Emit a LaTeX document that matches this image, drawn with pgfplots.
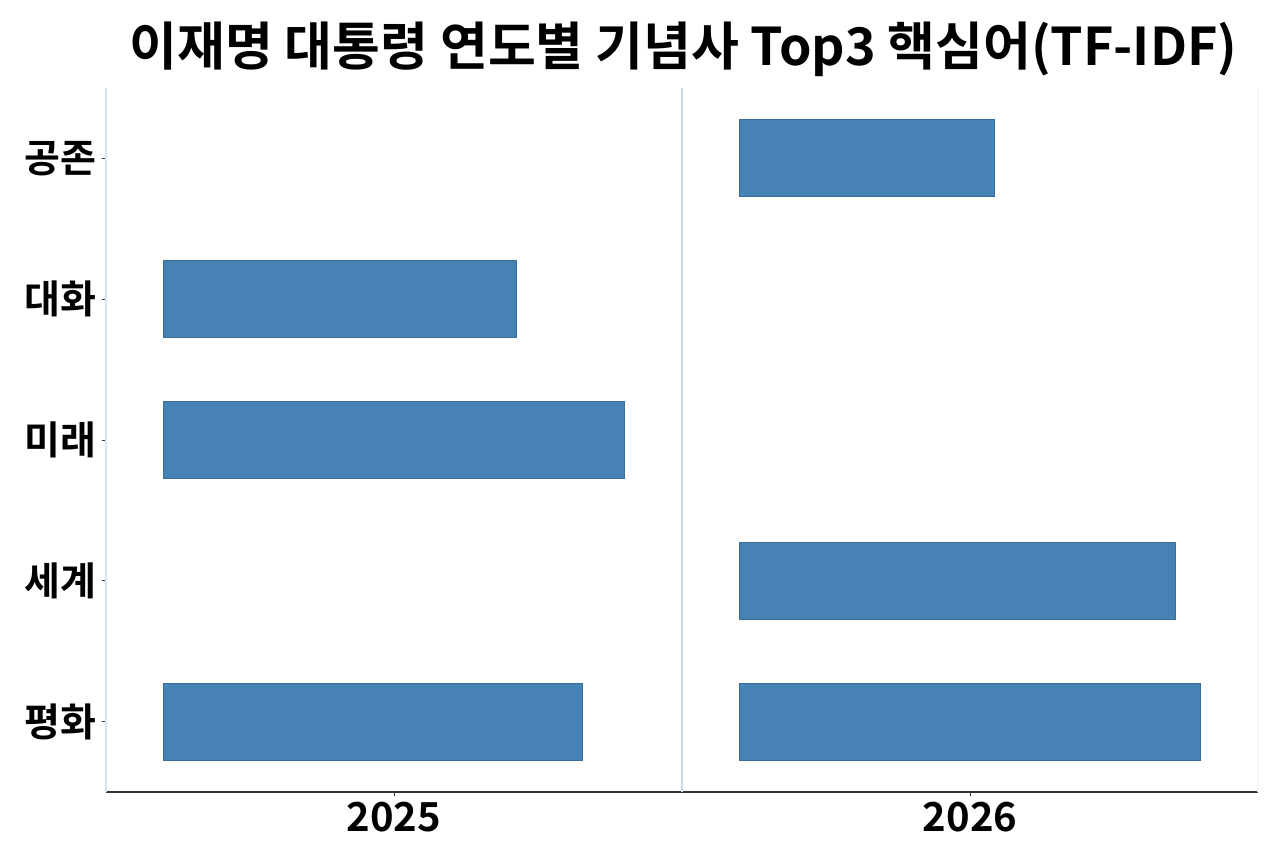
\documentclass[border=0pt]{standalone}
\usepackage{pgfplots}
\pgfplotsset{compat=1.18}
\usepackage{fontspec}
\setmainfont{Noto Sans CJK KR}[BoldFont={Noto Sans CJK KR Bold}]
\definecolor{barblue}{HTML}{4682B4}
\definecolor{baredge}{HTML}{3A6E9A}
\definecolor{spineblue}{HTML}{D3E2EF}
\definecolor{divblue}{HTML}{C6DBEF}
\definecolor{faint}{HTML}{F7F7F7}

\pgfplotsset{
  facet/.style={
    scale only axis, width=288pt, height=352pt,
    xmin=-0.099, xmax=0.901, ymin=-0.5, ymax=4.5,
    xbar, bar width=38.5pt,
    axis x line*=bottom, axis y line*=left,
    axis line style={-},
    x axis line style={draw=black!80, line width=0.7pt},
    tick align=outside,
    major tick length=2pt,
    tick style={black!80, line width=0.4pt},
    xtick={0.401},
    xticklabel style={font=\bfseries\fontsize{20}{24}\selectfont, inner sep=0pt, yshift=-3pt},
    yticklabel style={font=\bfseries\fontsize{19.5}{24}\selectfont, inner sep=0pt, xshift=-2.5pt},
    clip=false,
  }
}

\begin{document}
\begin{tikzpicture}
\path[use as bounding box] (-53pt,-34pt) rectangle (587pt,396pt);

% Panel 2025
\begin{axis}[facet, at={(0pt,0pt)}, anchor=south west,
  y axis line style={draw=spineblue, line width=1pt},
  ytick={0,1,2,3,4},
  yticklabels={평화,세계,미래,대화,공존},
  xticklabels={2025}]
\addplot[fill=barblue, draw=baredge, line width=0.4pt]
  coordinates {(0.614,3) (0.801,2) (0.728,0)};
\end{axis}

% Panel 2026
\begin{axis}[facet, at={(288pt,0pt)}, anchor=south west,
  y axis line style={draw=divblue, line width=0.6pt},
  ytick=\empty,
  xticklabels={2026}]
\addplot[fill=barblue, draw=baredge, line width=0.4pt]
  coordinates {(0.443,4) (0.757,1) (0.801,0)};
\draw[faint, line width=0.6pt] (rel axis cs:1,0) -- (rel axis cs:1,1);
\end{axis}

\node[anchor=base, font=\bfseries\fontsize{26}{30}\selectfont] at (288.75pt,363pt)
  {이재명 대통령 연도별 기념사 Top3 핵심어(TF-IDF)};
\end{tikzpicture}
\end{document}
